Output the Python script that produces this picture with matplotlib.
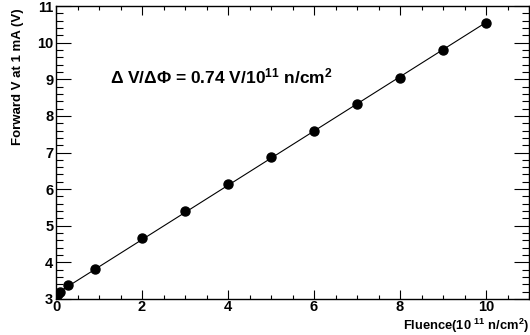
import numpy as np
import matplotlib
matplotlib.use('Agg')
import matplotlib.pyplot as plt
from matplotlib.ticker import MultipleLocator

# data
fluence = [0.0, 0.05, 0.1, 0.28, 0.9, 2.0, 3.0, 4.0, 5.0, 6.0, 7.0, 8.0, 9.0, 10.0]
voltage = [3.06, 3.13, 3.2, 3.38, 3.82, 4.67, 5.4, 6.15, 6.87, 7.58, 8.32, 9.03, 9.8, 10.55]

xlabel = r'Fluence(10 $^{11}$ n/cm$^{2}$)'
ylabel = 'Forward V at 1 mA (V)'
note = r'$\Delta$ V/$\Delta\Phi$ = 0.74 V/10$^{11}$ n/cm$^{2}$'

plt.rcParams['font.family'] = ['Liberation Sans', 'DejaVu Sans']
plt.rcParams['font.weight'] = 'bold'
plt.rcParams['mathtext.fontset'] = 'custom'
plt.rcParams['mathtext.rm'] = 'Liberation Sans:bold'
plt.rcParams['mathtext.it'] = 'Liberation Sans:bold'
plt.rcParams['mathtext.bf'] = 'Liberation Sans:bold'

fig = plt.figure(figsize=(5.3, 3.35), dpi=100)
ax = fig.add_axes([0.1057, 0.1075, 0.8925, 0.8745])

# linear fit line
p = np.polyfit(fluence, voltage, 1)
xf = np.array([0.0, 10.0])
ax.plot(xf, np.polyval(p, xf), color='black', lw=0.8, zorder=2)
ax.plot(fluence, voltage, 'o', color='black', markersize=6.5, zorder=3)

ax.set_xlim(0, 11)
ax.set_ylim(3, 11)
ax.xaxis.set_major_locator(MultipleLocator(2))
ax.xaxis.set_minor_locator(MultipleLocator(0.5))
ax.yaxis.set_major_locator(MultipleLocator(1))
ax.yaxis.set_minor_locator(MultipleLocator(0.2))
ax.tick_params(axis='both', which='both', direction='in', top=True, right=True,
               width=0.8, labelsize=10.5)
ax.tick_params(axis='x', which='major', length=6.5, pad=0.5)
ax.tick_params(axis='x', which='minor', length=3.2)
ax.tick_params(axis='y', which='major', length=10.5, pad=2)
ax.tick_params(axis='y', which='minor', length=5.2)
for s in ax.spines.values():
    s.set_linewidth(1.0)

fig.text(0.998, 0.0, xlabel, ha='right', va='bottom', fontsize=9.3, fontweight='bold')
fig.text(0.022, 0.976, ylabel, ha='left', va='top', rotation=90, fontsize=9.5, fontweight='bold')
ax.text(1.25, 9.07, note, fontsize=12.5, fontweight='bold', va='center')

fig.savefig('out.png', dpi=100)
